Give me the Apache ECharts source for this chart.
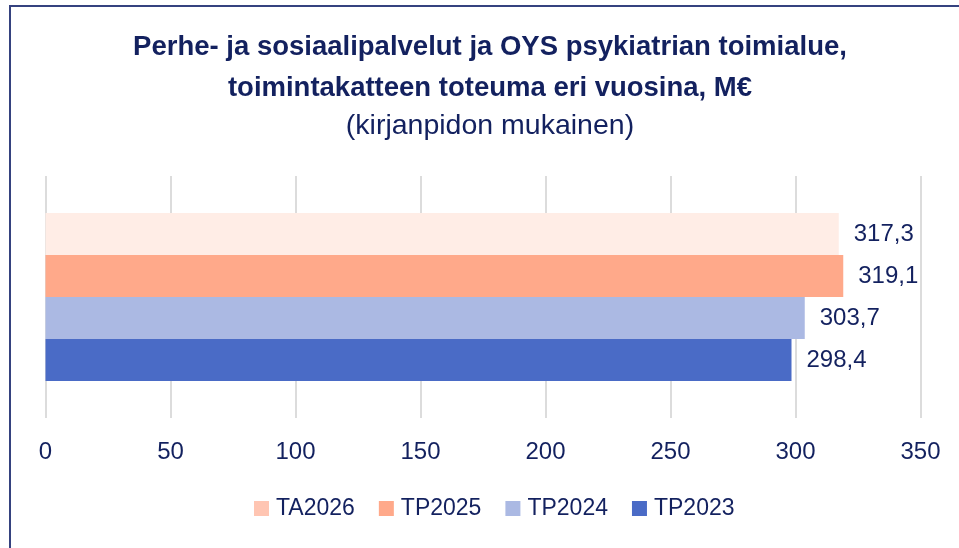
<!DOCTYPE html>
<html>
<head>
    <meta charset="utf-8">
    <title>Toimintakate</title>
    <style>
        html, body {
            margin: 0;
            padding: 0;
            width: 959px;
            height: 548px;
            overflow: hidden;
            background-color: #ffffff;
        }
        .frame {
            position: absolute;
            left: 9px;
            top: 5px;
            width: 1200px;
            height: 800px;
            border: 2px solid #35427f;
        }
        #chart {
            position: absolute;
            left: 0;
            top: 0;
            width: 980px;
            height: 548px;
        }
    </style>
</head>
<body>
    <div class="frame"></div>
    <div id="chart"></div>

    <script src="https://cdn.jsdelivr.net/npm/echarts@6.0.0/dist/echarts.min.js"></script>
    <script>
        // data
        const categories = ['Toimintakate'];
        const seriesNames = ['TA2026', 'TP2025', 'TP2024', 'TP2023']; // top to bottom
        const tp2023 = [298.4];
        const tp2024 = [303.7];
        const tp2025 = [319.1];
        const ta2026 = [317.3];
        const legendOrder = ['TA2026', 'TP2025', 'TP2024', 'TP2023'];
        const axisTicks = [0, 50, 100, 150, 200, 250, 300, 350];

        const textColor = '#13215f';
        const font = 'Liberation Sans, Arial, sans-serif';
        const barColors = {
            TP2023: '#4a6bc6',
            TP2024: '#abb9e3',
            TP2025: '#ffa98a',
            TA2026: '#ffede6'
        };
        const legendColors = {
            TA2026: '#ffc5b2'
        };
        const values = { TP2023: tp2023, TP2024: tp2024, TP2025: tp2025, TA2026: ta2026 };

        const chart = echarts.init(document.getElementById('chart'));

        const option = {
            animation: false,
            title: {
                text: 'Perhe- ja sosiaalipalvelut ja OYS psykiatrian toimialue,\ntoimintakatteen toteuma eri vuosina, M€',
                subtext: '(kirjanpidon mukainen)',
                left: 'center',
                top: 27,
                padding: 0,
                itemGap: 0,
                textStyle: {
                    fontFamily: font,
                    fontSize: 27.5,
                    fontWeight: 'bold',
                    color: textColor,
                    lineHeight: 41
                },
                subtextStyle: {
                    fontFamily: font,
                    fontSize: 28.5,
                    color: textColor,
                    lineHeight: 34
                }
            },
            legend: {
                data: legendOrder.map(function (n) {
                    return legendColors[n] ? { name: n, itemStyle: { color: legendColors[n] } } : { name: n };
                }),
                left: 254,
                top: 497,
                padding: 0,
                icon: 'rect',
                itemWidth: 15,
                itemHeight: 15,
                itemGap: 24,
                textStyle: {
                    fontFamily: font,
                    fontSize: 23,
                    color: textColor,
                    padding: [0, 0, 0, 2]
                }
            },
            grid: {
                left: 45.5,
                top: 176,
                width: 875,
                height: 242
            },
            xAxis: {
                type: 'value',
                min: axisTicks[0],
                max: axisTicks[axisTicks.length - 1],
                interval: axisTicks[1] - axisTicks[0],
                axisLine: { show: false },
                axisTick: { show: false },
                axisLabel: {
                    fontFamily: font,
                    fontSize: 24,
                    color: textColor,
                    margin: 22
                },
                splitLine: {
                    show: true,
                    lineStyle: { color: '#dcdcdc', width: 2 }
                }
            },
            yAxis: {
                type: 'category',
                data: categories,
                axisLine: { show: false },
                axisTick: { show: false },
                axisLabel: { show: false }
            },
            series: seriesNames.map(function (name) {
                return {
                    name: name,
                    type: 'bar',
                    data: values[name],
                    barWidth: 42,
                    barGap: '0%',
                    itemStyle: { color: barColors[name] },
                    label: {
                        show: true,
                        position: 'right',
                        distance: 15,
                        fontFamily: font,
                        fontSize: 24,
                        color: textColor,
                        formatter: function (p) {
                            return p.value.toFixed(1).replace('.', ',');
                        }
                    }
                };
            })
        };

        chart.setOption(option);
    </script>
</body>
</html>
